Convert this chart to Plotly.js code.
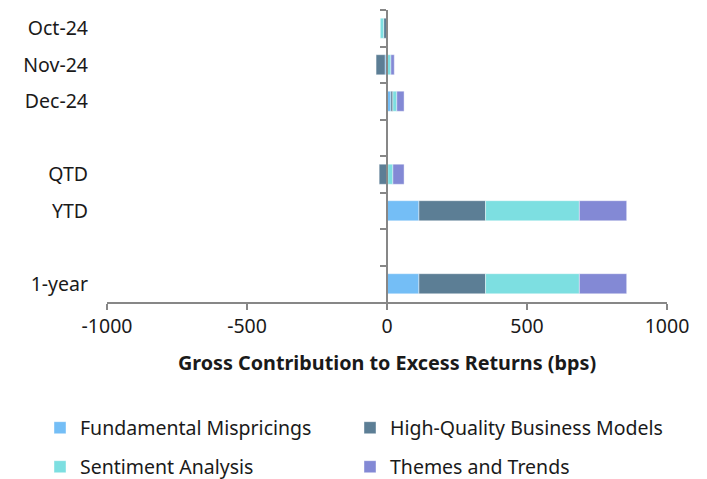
<!DOCTYPE html>
<html>
<head>
<meta charset="utf-8">
<script src="https://cdn.plot.ly/plotly-3.0.1.min.js"></script>
<style>html,body{margin:0;padding:0;background:#fff;}#chart{width:707px;height:479px;}</style>
</head>
<body>
<div id="chart"></div>
<script>
// Categories (blank slots are spacer rows)
var categories = ['Oct-24', 'Nov-24', 'Dec-24', ' ', 'QTD', 'YTD', '  ', '1-year'];

// Series values (bps)
var fundamental = [0, -7, 14, null, 3, 114, null, 114];
var highQuality = [-12, -32, 7, null, -28, 238, null, 238];
var sentiment   = [-12, 14, 14, null, 18, 335, null, 335];
var themes      = [0, 12, 26, null, 40, 169, null, 169];

// X tick values / labels
var xTickVals = [-1000, -500, 0, 500, 1000];
var xTickText = ['-1000', '-500', '0', '500', '1000'];

var seriesNames = ['Fundamental Mispricings', 'High-Quality Business Models', 'Sentiment Analysis', 'Themes and Trends'];
var seriesColors = ['#74BEF6', '#5C7E95', '#7DDFE1', '#8389D5'];
var seriesData = [fundamental, highQuality, sentiment, themes];
var seriesLegend = ['legend', 'legend2', 'legend3', 'legend4'];

var FONT = 'Noto Sans, DejaVu Sans, sans-serif';
var TXT = '#1a1a1a';
var axisGray = '#878787';
var FS = 19.5;

var traces = seriesData.map(function (vals, i) {
  return {
    type: 'bar',
    orientation: 'h',
    name: seriesNames[i],
    x: vals,
    y: categories,
    marker: {color: seriesColors[i], line: {color: 'rgba(255,255,255,0.7)', width: 0.6}},
    legend: seriesLegend[i],
    hoverinfo: 'x+name'
  };
});

// invisible helper trace to carry the category axis drawn at x = 0
traces.push({
  type: 'scatter', mode: 'none', x: categories.map(function () { return 0; }), y: categories,
  yaxis: 'y2', showlegend: false, hoverinfo: 'skip'
});

function legendAt(x, y) {
  return {
    orientation: 'h', xref: 'container', yref: 'container',
    x: x, xanchor: 'left', y: y, yanchor: 'middle',
    font: {family: FONT, size: FS, color: TXT},
    bgcolor: 'rgba(0,0,0,0)'
  };
}

var layout = {
  width: 707, height: 479,
  margin: {l: 107, r: 40, t: 10, b: 177},
  paper_bgcolor: '#fff', plot_bgcolor: '#fff',
  font: {family: FONT, size: FS, color: TXT},
  barmode: 'relative',
  bargap: 0.45,
  showlegend: true,
  xaxis: {
    range: [-1000, 1000],
    tickmode: 'array', tickvals: xTickVals, ticktext: xTickText,
    showgrid: false, zeroline: false,
    showline: true, linecolor: axisGray, linewidth: 2,
    ticks: 'outside', ticklen: 6, tickwidth: 2, tickcolor: axisGray,
    tickfont: {family: FONT, size: FS, color: TXT},
    title: {text: '<b>Gross Contribution to Excess Returns (bps)</b>', font: {family: FONT, size: 19.8, color: TXT}, standoff: 18}
  },
  yaxis: {
    type: 'category', categoryorder: 'array', categoryarray: categories,
    range: [7.5, -0.5],
    showgrid: false, zeroline: false, showline: false, ticks: '',
    ticklabelstandoff: 18,
    tickfont: {family: FONT, size: FS, color: TXT}
  },
  yaxis2: {
    type: 'category', categoryorder: 'array', categoryarray: categories,
    range: [7.5, -0.5],
    overlaying: 'y', anchor: 'free', position: 0.5, side: 'left',
    showgrid: false, zeroline: false,
    showline: true, linecolor: axisGray, linewidth: 2,
    ticks: 'outside', tickson: 'boundaries', ticklen: 6, tickwidth: 2, tickcolor: axisGray,
    showticklabels: false
  },
  legend: legendAt(40 / 707, (479 - 428) / 479),
  legend2: legendAt(350 / 707, (479 - 428) / 479),
  legend3: legendAt(40 / 707, (479 - 467) / 479),
  legend4: legendAt(350 / 707, (479 - 467) / 479)
};

Plotly.newPlot('chart', traces, layout, {displayModeBar: false, staticPlot: true});
</script>
</body>
</html>
